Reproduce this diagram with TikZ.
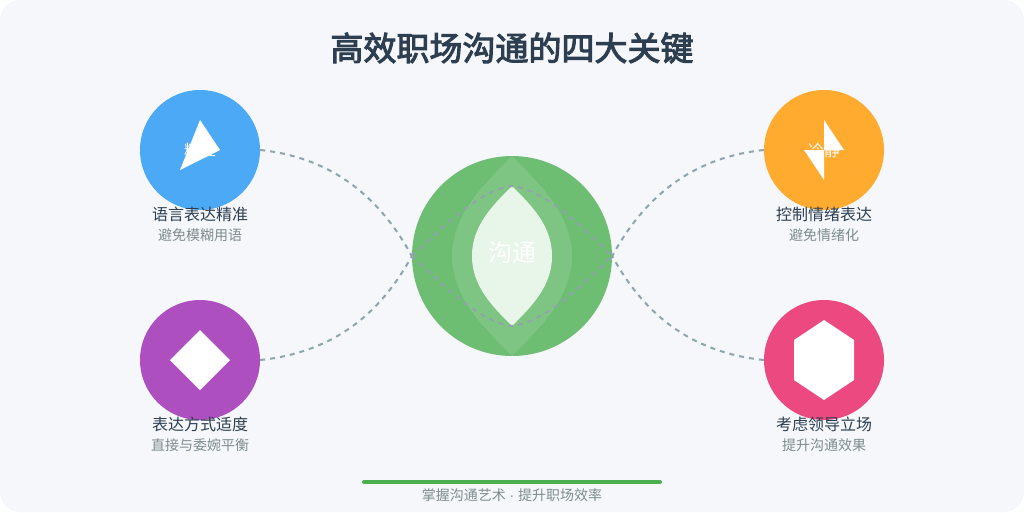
\documentclass[tikz,border=0pt]{standalone}
\usepackage{fontspec}
\setmainfont{Noto Sans CJK SC}
\newfontfamily\titlefont[FakeBold=3]{Noto Sans CJK SC}
\newfontfamily\dotfont{Liberation Sans}
\definecolor{pagebg}{HTML}{F5F7FA}
\definecolor{inkdark}{HTML}{2C3E50}
\definecolor{inkgrey}{HTML}{7F8C8D}
\definecolor{linkgrey}{HTML}{90A4AE}
\definecolor{coregreen}{HTML}{4CAF50}
\definecolor{coreinner}{HTML}{E8F5E9}
\definecolor{langblue}{HTML}{42A5F5}
\definecolor{calmorange}{HTML}{FFA726}
\definecolor{wayviolet}{HTML}{AB47BC}
\definecolor{bosspink}{HTML}{EC407A}
\tikzstyle{keycircle} = [circle, minimum size=120pt, inner sep=0pt, fill opacity=0.95, text opacity=1, text=white, font=\fontsize{16}{16}\selectfont]
\tikzstyle{keyname} = [text=inkdark, font=\fontsize{16}{16}\selectfont, inner sep=0pt]
\tikzstyle{keynote} = [text=inkgrey, font=\fontsize{14}{14}\selectfont, inner sep=0pt]
\tikzstyle{keylink} = [draw=linkgrey, line width=2pt, dash pattern=on 5pt off 5pt]
\begin{document}
\begin{tikzpicture}[x=1pt, y=-1pt]
\useasboundingbox (0,0) rectangle (1024,512);
\fill[pagebg, rounded corners=20pt] (0,0) rectangle (1024,512);
\node[text=inkdark, font=\fontsize{33}{33}\selectfont\titlefont, inner sep=0pt] (title) at (512,48) {高效职场沟通的四大关键};
% center
\node[circle, minimum size=200pt, inner sep=0pt, fill=coregreen, fill opacity=0.8] (core) at (512,256) {};
\fill[white, opacity=0.12] (512,156) .. controls (482,186) and (452,216) .. (452,256) .. controls (452,296) and (482,326) .. (512,356) .. controls (542,326) and (572,296) .. (572,256) .. controls (572,216) and (542,186) .. (512,156) -- cycle;
\fill[coreinner] (512,186) .. controls (492,206) and (472,226) .. (472,256) .. controls (472,286) and (492,306) .. (512,326) .. controls (532,306) and (552,286) .. (552,256) .. controls (552,226) and (532,206) .. (512,186) -- cycle;
\node[text=white, font=\fontsize{24}{24}\selectfont, inner sep=0pt] (corelabel) at (512,252) {沟通};
% four keys
\node[keycircle, fill=langblue] (lang) at (200,150) {精准};
\fill[white] (200,120) -- (220,150) -- (180,170) -- cycle;
\node[keyname] (langname) at (200,214) {语言表达精准};
\node[keynote] (langnote) at (200,235) {避免模糊用语};
\node[keycircle, fill=calmorange] (calm) at (824,150) {冷静};
\fill[white] (824,120) -- (844,150) -- (804,150) -- (824,180) -- cycle;
\node[keyname] (calmname) at (824,214) {控制情绪表达};
\node[keynote] (calmnote) at (824,235) {避免情绪化};
\node[keycircle, fill=wayviolet] (way) at (200,360) {};
\fill[white] (200,330) -- (230,360) -- (200,390) -- (170,360) -- cycle;
\node[keyname] (wayname) at (200,424) {表达方式适度};
\node[keynote] (waynote) at (200,445) {直接与委婉平衡};
\node[keycircle, fill=bosspink] (boss) at (824,360) {};
\fill[white] (824,320) -- (854,340) -- (854,380) -- (824,400) -- (794,380) -- (794,340) -- cycle;
\node[keyname] (bossname) at (824,424) {考虑领导立场};
\node[keynote] (bossnote) at (824,445) {提升沟通效果};
% links
\coordinate (coretop) at (512,186);
\coordinate (corebot) at (512,326);
\draw[keylink] (lang.east) .. controls (327,157) and (377,192) .. (core.west);
\draw[keylink] (way.east) .. controls (327,353) and (377,320) .. (core.west);
\draw[keylink] (calm.west) .. controls (697,157) and (647,192) .. (core.east);
\draw[keylink] (boss.west) .. controls (697,353) and (647,320) .. (core.east);
\draw[keylink] (core.west) .. controls (445,225) and (480,190) .. (coretop) .. controls (545,190) and (580,225) .. (core.east);
\draw[keylink] (core.west) .. controls (445,287) and (480,322) .. (corebot) .. controls (545,322) and (580,287) .. (core.east);
% footer
\draw[coregreen, line width=4pt, line cap=round] (364,482) coordinate (barleft) -- (660,482) coordinate (barright);
\node[text=inkgrey, font=\fontsize{14}{14}\selectfont, inner sep=0pt] (footer) at (512,495) {掌握沟通艺术{\dotfont\ ·\ }提升职场效率};
\end{tikzpicture}
\end{document}
